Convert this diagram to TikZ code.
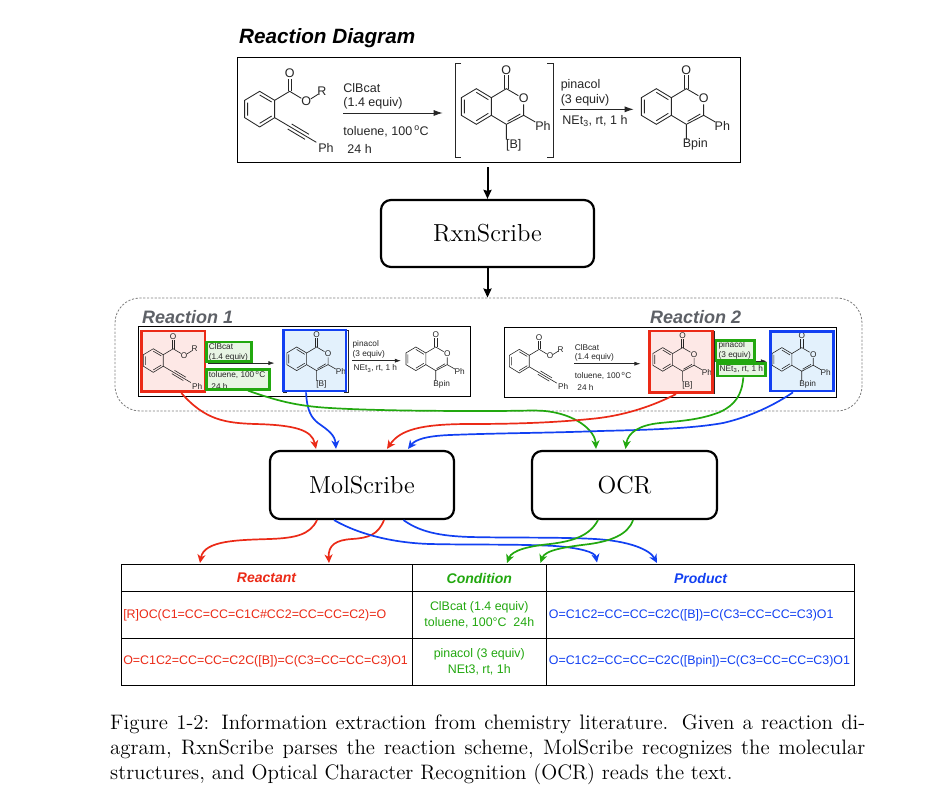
\documentclass[tikz,border=0pt]{standalone}
\usepackage{fontspec}
\setsansfont{Liberation Sans}
\usetikzlibrary{arrows.meta,fit}
\definecolor{cred}{HTML}{EB2A17}
\definecolor{cgreen}{HTML}{22A80F}
\definecolor{cblue}{HTML}{1240F2}
\definecolor{cgray}{HTML}{5E6167}
\definecolor{fred}{HTML}{FDE8E6}
\definecolor{fgreen}{HTML}{E8F5E4}
\definecolor{fblue}{HTML}{E3F1FC}
\newcommand\bigtxt[1]{\scalebox{2.05}{\fontsize{12}{14}\selectfont #1}}
\newcommand\captxt[1]{\scalebox{1.745}{\fontsize{12}{14.5}\selectfont #1}}
\tikzset{
  atom/.style={inner sep=0pt,font=\sffamily\fontsize{\rxfs}{\rxfs}\selectfont,text=black!85},
  atomw/.style={atom,anchor=west},
  bigbox/.style={draw=black,line width=2.2pt,rounded corners=10pt,inner sep=0pt},
  flow/.style={line width=2pt,-{Stealth[length=9pt,width=8pt,inset=1pt]}},
  link/.style={line width=1.7pt,-{Stealth[length=8.5pt,width=8pt,inset=2.5pt]}},
  title/.style={inner sep=0pt,anchor=west,font=\sffamily\bfseries\itshape},
  cell/.style={draw=black,line width=0.8pt,inner sep=0pt},
  celltxt/.style={inner sep=0pt,font=\sffamily\fontsize{12.4}{15.5}\selectfont,align=center},
  cellhead/.style={inner sep=0pt,font=\sffamily\bfseries\itshape\fontsize{14}{16}\selectfont},
  hl/.style={inner sep=0pt,line width=2.7pt,draw=#1},
  captionline/.style={inner sep=0pt,anchor=base west},
}
\newcommand\IsoC[1]{%
  \begin{scope}[shift={(#1,0)}]
    \draw (738,205)--(783,232)--(783,285)--(738,312)--(693,285)--(693,232)--cycle;
    \draw (702,238)--(702,279) (738,216)--(774,238) (738,301)--(774,279);
    \draw (783,232)--(828,205)--(864,226) (880,252)--(880,285)--(828,312)--(783,285);
    \draw (823,205)--(823,165) (833,205)--(833,165);
    \draw (870,281)--(832,303);
    \draw (880,285)--(915,305) (828,312)--(828,358);
  \end{scope}}
\newcommand\RxnImg[4]{% prefix, X, Y, s
  \pgfmathsetmacro\rxu{#4/3}
  \pgfmathsetmacro\rxfs{12.5*#4}
  \pgfmathsetmacro\rxlw{0.75*#4+0.1}
  \pgfmathsetmacro\rxal{9*#4}
  \pgfmathsetmacro\rxaw{6*#4}
  \begin{scope}[shift={(#2,#3)},x=\rxu pt,y=-\rxu pt,shift={(-20,-113)},line width=\rxlw pt,draw=black!85]
    % first molecule
    \draw (88,213)--(133,240)--(133,292)--(88,320)--(43,292)--(43,240)--cycle;
    \draw (52,247)--(52,286) (88,224)--(124,245) (88,309)--(124,287);
    \draw (133,240)--(178,213)--(213,234) (241,236)--(263,222);
    \draw (173,213)--(173,175) (183,213)--(183,175);
    \draw (133,292)--(258,366) (184,311)--(236,342) (172,326)--(224,357);
    \node[atom] (#1o1) at (178,160) {O};
    \node[atom] (#1o2) at (228,243) {O};
    \node[atom] (#1r) at (275,213) {R};
    \node[atom] (#1ph1) at (287,383) {Ph};
    % reagents 1
    \node[atomw] (#1a1) at (338,203) {ClBcat};
    \node[atomw] (#1a2) at (338,250) {(1.4 equiv)};
    \node[atomw] (#1a3) at (338,333) {toluene, 100\,\textsuperscript{o}C};
    \node[atomw] (#1a4) at (350,385) {24 h};
    \draw[-{Latex[length=\rxal pt,width=\rxaw pt]}] (338,278)--(637,278);
    % brackets
    \draw (692,130)--(675,130)--(675,412)--(692,412) (950,130)--(970,130)--(970,412)--(950,412);
    % second molecule
    \IsoC{0}
    \node[atom] (#1o3) at (828,150) {O};
    \node[atom] (#1o4) at (880,235) {O};
    \node[atom] (#1ph2) at (938,318) {Ph};
    \node[atom] (#1b) at (850,375) {[B]};
    % reagents 2
    \node[atomw] (#1c1) at (990,195) {pinacol};
    \node[atomw] (#1c2) at (990,240) {(3 equiv)};
    \node[atomw] (#1c3) at (995,303) {NEt\textsubscript{3}, rt, 1 h};
    \draw[-{Latex[length=\rxal pt,width=\rxaw pt]}] (990,267)--(1210,267);
    % third molecule
    \IsoC{540}
    \node[atom] (#1o5) at (1368,150) {O};
    \node[atom] (#1o6) at (1420,235) {O};
    \node[atom] (#1ph3) at (1476,318) {Ph};
    \node[atom] (#1bp) at (1395,373) {Bpin};
  \end{scope}}
\newcommand\HLfill[5]{\fill[#5] (#1,#2) rectangle (#3,#4);}
\newcommand\HL[6]{\node[hl=#6,fit={(#2,#3)(#4,#5)}] (#1) {};}
\newcommand\Cell[5]{\node[cell,fit={(#2,#3)(#4,#5)}] (#1) {};}
\begin{document}
\begin{tikzpicture}[x=1pt,y=-1pt]
\useasboundingbox (0,0) rectangle (932,810);
\fill[white] (0,0) rectangle (932,810);
% top
\node[title,font=\sffamily\bfseries\itshape\fontsize{20.7}{22}\selectfont] (ttl) at (239,38) {Reaction Diagram};
\node[draw=black,line width=1pt,inner sep=0pt,fit={(237,58)(740,163)}] (dia) {};
\RxnImg{m}{237}{58}{1}
\node[bigbox,minimum width=213pt,minimum height=67pt] (rxn) at (487.5,233.5) {\bigtxt{RxnScribe}};
\draw[flow,shorten <=4pt] (dia.south -| rxn.north) -- (rxn.north);
% reactions panel
\node[draw=black!50,line width=0.8pt,dash pattern=on 2.2pt off 1.6pt,rounded corners=25pt,inner sep=0pt,fit={(115,298)(862,411)}] (panel) {};
\draw[flow] (rxn.south) -- (panel.north -| rxn.south);
\node[title,text=cgray,font=\sffamily\bfseries\itshape\fontsize{18}{20}\selectfont] (r1t) at (142,317) {Reaction 1};
\node[title,text=cgray,font=\sffamily\bfseries\itshape\fontsize{18}{20}\selectfont] (r2t) at (650,317) {Reaction 2};
\node[draw=black,line width=0.9pt,inner sep=0pt,fit={(138.3,326.7)(470.7,396.7)}] (img1) {};
\node[draw=black,line width=0.9pt,inner sep=0pt,fit={(504.3,327.3)(836.7,397)}] (img2) {};
\HLfill{141.7}{331}{205}{391.7}{fred}
\HLfill{206.7}{342}{251.7}{361.7}{fgreen}
\HLfill{206.7}{369.7}{269.3}{389.3}{fgreen}
\HLfill{283.3}{330}{346}{391}{fblue}
\HLfill{649.3}{331}{712.7}{392.7}{fred}
\HLfill{716}{340.7}{754.3}{360.3}{fgreen}
\HLfill{717.3}{363.3}{765.3}{376}{fgreen}
\HLfill{770.7}{331.7}{833.3}{391}{fblue}
\RxnImg{p}{138.3}{326.7}{0.662}
\RxnImg{q}{504.3}{327.3}{0.662}
\HL{r1}{141.7}{331}{205}{391.7}{cred}
\HL{c1a}{206.7}{342}{251.7}{361.7}{cgreen}
\HL{c1b}{206.7}{369.7}{269.3}{389.3}{cgreen}
\HL{b1}{283.3}{330}{346}{391}{cblue}
\HL{r2}{649.3}{331}{712.7}{392.7}{cred}
\HL{c2a}{716}{340.7}{754.3}{360.3}{cgreen}
\HL{c2b}{717.3}{363.3}{765.3}{376}{cgreen}
\HL{b2}{770.7}{331.7}{833.3}{391}{cblue}
% main boxes
\node[bigbox,minimum width=184pt,minimum height=68pt] (mol) at (362,485) {\bigtxt{MolScribe}};
\node[bigbox,minimum width=185pt,minimum height=68pt] (ocr) at (624.5,485) {\bigtxt{OCR}};
% table
\Cell{hr}{121}{564.7}{412}{591.3}
\Cell{hc}{412}{564.7}{546.6}{591.3}
\Cell{hp}{546.6}{564.7}{854.5}{591.3}
\Cell{r1a}{121}{591.3}{412}{638.3}
\Cell{r1b}{412}{591.3}{546.6}{638.3}
\Cell{r1c}{546.6}{591.3}{854.5}{638.3}
\Cell{r2a}{121}{638.3}{412}{685}
\Cell{r2b}{412}{638.3}{546.6}{685}
\Cell{r2c}{546.6}{638.3}{854.5}{685}
\node[cellhead,text=cred] (thr) at (hr.center) {Reactant};
\node[cellhead,text=cgreen] (thc) at (hc.center) {Condition};
\node[cellhead,text=cblue] (thp) at (hp.center) {Product};
\node[celltxt,text=cred,anchor=west] (t1a) at ([xshift=2.5pt]r1a.west) {[R]OC(C1=CC=CC=C1C\#CC2=CC=CC=C2)=O};
\node[celltxt,text=cgreen] (t1b) at (r1b.center) {ClBcat (1.4 equiv)\\toluene, 100°C\ \ 24h};
\node[celltxt,text=cblue,anchor=west] (t1c) at ([xshift=2.5pt]r1c.west) {O=C1C2=CC=CC=C2C([B])=C(C3=CC=CC=C3)O1};
\node[celltxt,text=cred,anchor=west] (t2a) at ([xshift=2.5pt]r2a.west) {O=C1C2=CC=CC=C2C([B])=C(C3=CC=CC=C3)O1};
\node[celltxt,text=cgreen] (t2b) at (r2b.center) {pinacol (3 equiv)\\NEt3, rt, 1h};
\node[celltxt,text=cblue,anchor=west] (t2c) at ([xshift=2.5pt]r2c.west) {O=C1C2=CC=CC=C2C([Bpin])=C(C3=CC=CC=C3)O1};
\coordinate (e1) at (200,563);
\coordinate (e2) at (329,563);
\coordinate (e3) at (597,562.5);
\coordinate (e4) at (657,563);
\coordinate (e5) at (507,563);
\coordinate (e6) at (540.5,563);
% links: upper
\draw[link,cred] ([xshift=8pt]r1.south) .. controls (205,420) and (225,423) .. (255,424) .. controls (295,425) and (312,430) .. ([xshift=-46pt,yshift=1pt]mol.north);
\draw[link,cblue] ([xshift=-8.6pt]b1.south) .. controls (307,412) and (312,418) .. (318,423) .. controls (328,430) and (335,435) .. ([xshift=-26pt,yshift=1pt]mol.north);
\draw[link,cgreen] ([xshift=10pt]c1b.south) .. controls (275,400) and (295,406) .. (330,408) .. controls (380,411) and (450,411) .. (490,411) .. controls (520,411) and (535,410) .. (545,411) .. controls (575,414) and (595,430) .. ([xshift=-28.5pt,yshift=1pt]ocr.north);
\draw[link,cred] ([xshift=-5pt]r2.south) .. controls (655,405) and (625,416) .. (590,419) .. controls (550,423) and (510,424) .. (470,424) .. controls (420,424) and (400,430) .. ([xshift=25pt,yshift=1pt]mol.north);
\draw[link,cblue] ([xshift=-9pt]b2.south) .. controls (770,408) and (745,418) .. (723,423) .. controls (690,429) and (640,430) .. (600,431) .. controls (550,433) and (500,433) .. (450,435) .. controls (425,436) and (415,440) .. ([xshift=46pt,yshift=1pt]mol.north);
\draw[link,cgreen] ([xshift=2pt]c2b.south) .. controls (742,395) and (735,405) .. (720,412) .. controls (700,420) and (680,421) .. (660,423) .. controls (640,425) and (628,432) .. ([xshift=1pt,yshift=1pt]ocr.north);
% links: lower
\draw[link,cred] ([xshift=-45pt]mol.south) .. controls (310,535) and (295,538) .. (270,539) .. controls (240,540) and (204,540) .. (e1);
\draw[link,cred] ([xshift=22pt]mol.south) .. controls (378,535) and (368,538) .. (352,539) .. controls (336,540) and (328,545) .. (e2);
\draw[link,cblue] ([xshift=-28pt]mol.south) .. controls (360,535) and (395,543) .. (430,544) .. controls (470,545) and (520,544) .. (555,546) .. controls (580,548) and (595,552) .. (e3);
\draw[link,cblue] ([xshift=41.5pt]mol.south) .. controls (420,532) and (440,536) .. (470,537) .. controls (510,538) and (560,537) .. (595,539) .. controls (630,541) and (650,550) .. (e4);
\draw[link,cgreen] ([xshift=-26.5pt]ocr.south) .. controls (590,535) and (575,541) .. (550,544) .. controls (530,546) and (512,550) .. (e5);
\draw[link,cgreen] ([xshift=8.5pt]ocr.south) .. controls (628,535) and (610,541) .. (590,544) .. controls (565,547) and (545,550) .. (e6);
% caption
\node[captionline] (cap1) at (110,729) {\captxt{\hbox to 432.7pt{Figure 1-2: Information extraction from chemistry literature. Given a reaction di-}}};
\node[captionline] (cap2) at (110,754) {\captxt{\hbox to 432.7pt{agram, RxnScribe parses the reaction scheme, MolScribe recognizes the molecular}}};
\node[captionline] (cap3) at (110,779) {\captxt{structures, and Optical Character Recognition (OCR) reads the text.}};
\end{tikzpicture}
\end{document}
